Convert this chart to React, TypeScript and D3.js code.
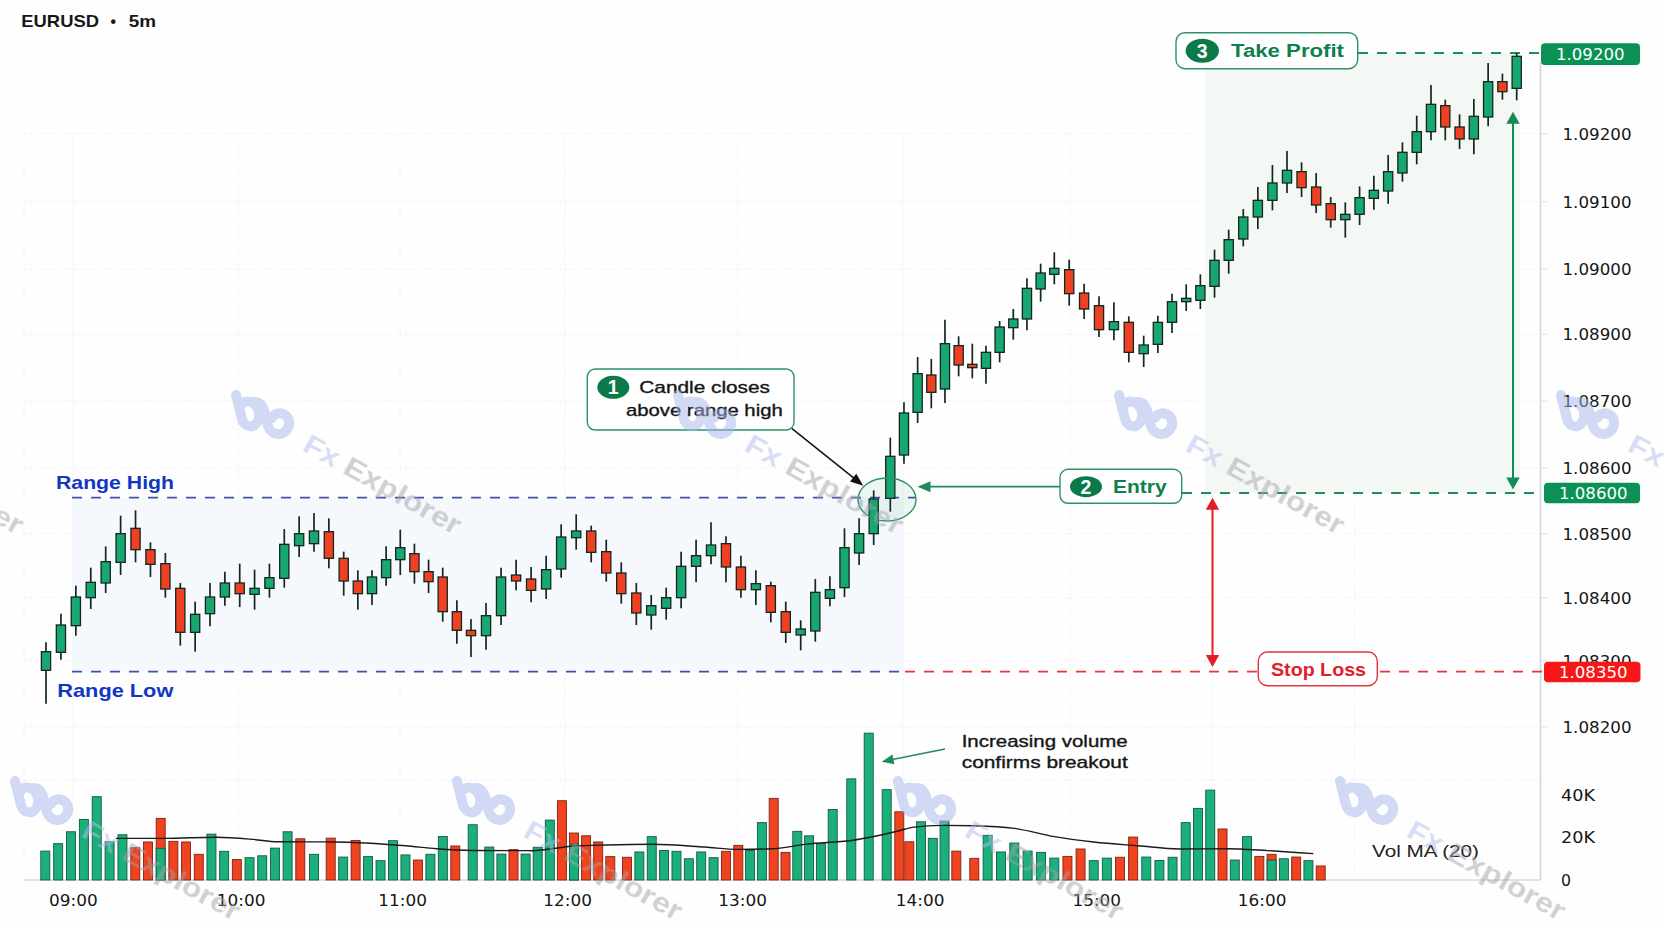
import React from "react";
import * as d3 from "d3";

// Prices in 1e-5 units, read candle by candle from the picture.
const candleOpen = [108382,108409,108449,108491,108513,108544,108595,108563,108542,108505,108439,108467,108492,108513,108496,108505,108520,108569,108572,108590,108550,108516,108497,108521,108548,108557,108530,108522,108470,108442,108434,108464,108525,108519,108504,108534,108581,108591,108560,108528,108498,108465,108475,108491,108538,108554,108572,108537,108503,108509,108470,108435,108441,108490,108506,108558,108587,108640,108705,108769,108825,108804,108869,108841,108835,108859,108896,108909,108954,108976,108983,108948,108929,108893,108904,108857,108871,108904,108935,108937,108958,108997,109029,109062,109087,109113,109130,109107,109082,109058,109066,109090,109101,109128,109159,109190,109229,109197,109179,109212,109265,109255];
const candleClose = [108410,108450,108492,108514,108545,108587,108563,108541,108504,108439,108466,108492,108513,108497,108505,108521,108571,108587,108591,108550,108516,108497,108522,108548,108566,108530,108515,108470,108442,108434,108464,108522,108516,108502,108533,108582,108591,108559,108528,108497,108468,108479,108491,108538,108554,108570,108537,108503,108512,108469,108439,108444,108499,108503,108566,108587,108639,108703,108768,108827,108799,108872,108840,108836,108859,108897,108909,108955,108978,108985,108947,108924,108893,108905,108859,108870,108904,108935,108940,108959,108997,109028,109062,109087,109113,109132,109106,109080,109058,109066,109091,109102,109130,109159,109190,109231,109197,109179,109213,109265,109250,109303];
const candleHigh = [108424,108467,108509,108536,108568,108614,108622,108574,108558,108513,108485,108513,108530,108542,108533,108542,108594,108613,108618,108610,108560,108532,108532,108568,108593,108572,108548,108536,108487,108459,108483,108536,108548,108537,108554,108601,108616,108599,108578,108544,108513,108495,108506,108560,108578,108604,108583,108554,108532,108515,108485,108457,108519,108523,108595,108610,108652,108731,108784,108852,108849,108908,108883,108872,108869,108906,108924,108970,108992,109009,108998,108962,108943,108934,108913,108884,108914,108947,108961,108976,109013,109043,109074,109107,109140,109161,109144,109128,109092,109084,109108,109124,109155,109174,109214,109260,109238,109216,109239,109293,109277,109308];
const candleLow = [108332,108398,108434,108474,108498,108525,108544,108522,108491,108419,108410,108448,108479,108477,108473,108491,108506,108552,108560,108535,108494,108473,108480,108509,108525,108512,108498,108455,108422,108402,108413,108450,108502,108484,108489,108521,108563,108544,108515,108482,108450,108443,108458,108475,108514,108541,108514,108491,108480,108454,108423,108412,108425,108478,108492,108540,108570,108620,108692,108753,108775,108783,108823,108820,108812,108844,108878,108892,108935,108961,108929,108909,108882,108877,108844,108837,108858,108888,108921,108924,108941,108977,109018,109044,109072,109098,109092,109068,109046,109031,109050,109073,109082,109115,109141,109177,109177,109164,109156,109198,109238,109237];

// Volume in thousands, read bar by bar; 1 = up bar, 0 = down bar.
const volumeK = [13.6,17.1,22.7,28.5,39.2,18.0,21.3,15.2,17.9,29.0,18.2,17.9,12.1,21.6,13.5,9.6,10.5,11.4,15.0,22.7,19.4,12.1,19.7,10.8,18.6,11.0,9.1,18.5,11.8,9.4,12.1,20.5,16.0,26.0,15.5,12.2,14.3,12.2,15.4,28.2,37.3,22.1,20.8,17.9,11.0,10.7,13.2,20.4,13.9,13.5,10.0,13.2,10.5,13.5,16.3,13.9,27.0,38.4,13.0,22.9,20.8,17.1,33.2,47.6,69.1,42.5,32.1,18.0,27.4,19.6,27.7,13.6,10.2,21.0,13.2,17.4,13.6,13.0,10.3,11.1,14.6,9.1,10.3,10.7,20.2,10.8,9.2,10.7,27.0,33.7,42.3,24.0,9.4,20.4,11.1,12.1,10.0,10.8,9.1,6.6];
const volumeUp = [1,1,1,1,1,1,1,0,0,0,0,0,0,1,1,0,1,1,1,1,0,1,0,1,0,1,1,1,1,0,1,1,0,1,1,1,0,1,1,1,0,0,0,0,0,0,1,1,1,1,1,1,1,0,0,1,1,0,0,1,1,1,1,1,1,1,0,0,1,1,1,0,0,1,1,1,1,1,1,0,0,1,1,0,0,1,1,1,1,1,1,0,1,1,0,0,1,0,1,0];
// Bars whose lower part shows the up colour under a down-coloured top.
const volumeUnderlayIdx = [9, 41, 95];
const volumeUnderlayK = [14.9, 16.9, 9.4];
const volMaIdx = [5.5,9.3,13.4,16.3,18.2,22.2,28,30.5,33,37.5,41,43.7,47,51.3,54,57,59.8,63,66,67.4,69.7,72,75,78,81,84.4,87.5,91.3,94.7,98.4];
const volMaK = [19.6,19.6,20.1,19.1,18.0,17.9,16.1,14.7,13.9,13.8,16.0,16.5,16.8,15.5,14.4,14.7,16.9,18.6,23.2,24.9,25.7,25.5,24.3,20.4,17.9,16.1,14.6,14.7,13.8,12.4];

// The printed price axis is not evenly spaced: each label sits at its own level.
const priceTickLabels = ["1.09200","1.09100","1.09000","1.08900","1.08700","1.08600","1.08500","1.08400","1.08300","1.08200"];
const priceTickLevels = [109187,109085,108984,108886,108786,108686,108587,108491,108396,108297];
const volTickLabels = ["40K","20K","0"];
const volTickValues = [40,20,0];
const volGridValues = [47];
const hourLabels = ["09:00","10:00","11:00","12:00","13:00","14:00","15:00","16:00"];
const hourPos = [9,10,11,12,13,14,15,16];
const gridHours = [9,10,11,12,13,14,15,15.9,16.8];

const rangeHigh = 108641, rangeLow = 108380, entryLevel = 108648, stopLevel = 108380, targetLevel = 109308;

// Scales (anchors follow the slightly irregular spacing of the reference).
const yPrice = d3.scaleLinear().domain([108300, 109188]).range([725, 133]);
const yVol = d3.scaleLinear().domain([0, 40]).range([880, 795]);
const xCandle = d3.scaleLinear()
  .domain([0,9,20,29,40,51,56,57,69,75,81,89,101])
  .range([46,180.3,343.7,471,636.3,800.7,873.7,890.3,1054.3,1143.7,1228.7,1345.3,1516.7]);
const xVol = d3.scaleLinear()
  .domain([0,7,20,21,22,32,33,34,44,45,54,62,63,64,65,66,67,71,72,78,88,99])
  .range([45.3,135.3,300.3,314,330.7,455.3,472.7,489.3,610.3,627,738.3,832.7,851.3,868.7,886.7,899.3,909.3,956.3,974.3,1054.3,1185.7,1320.7]);
const xLabel = d3.scaleLinear().domain(hourPos).range([73.3,241,402.5,567.5,742.5,920,1096.7,1262]);
const xGrid = d3.scaleLinear().domain(hourPos).range([73,238,400,565,738,903,1070,1228]);

const GREEN = "#17a872", RED = "#ef4122", OUT = "#14261f";
const DG = "#0b7a48", LG = "#1f8c5c", AXIS = "#cfd4e2";
const SANS = "'Liberation Sans', Arial, sans-serif", DJ = "'DejaVu Sans', sans-serif";

const T = ({ x, y, len, size, fill = "#161616", bold = false, semi = false, family = SANS, children }: any) => (
  <text x={x} y={y} textLength={len} lengthAdjust="spacingAndGlyphs" fontSize={size} fontFamily={family}
    fontWeight={bold ? 700 : 400} fill={fill} stroke={semi ? fill : "none"} strokeWidth={semi ? 0.35 : 0}>{children}</text>
);

const Arrow = ({ x1, y1, x2, y2, color, w = 1.6, hl = 12, hw = 5.5, both = false }: any) => {
  const a = Math.atan2(y2 - y1, x2 - x1), c = Math.cos(a), s = Math.sin(a);
  const head = (tx: number, ty: number, d: number) =>
    `${tx},${ty} ${tx - d * hl * c - hw * s},${ty - d * hl * s + hw * c} ${tx - d * hl * c + hw * s},${ty - d * hl * s - hw * c}`;
  return (
    <g>
      <line x1={both ? x1 + hl * c * 0.8 : x1} y1={both ? y1 + hl * s * 0.8 : y1} x2={x2 - hl * c * 0.8} y2={y2 - hl * s * 0.8} stroke={color} strokeWidth={w} />
      <polygon points={head(x2, y2, 1)} fill={color} />
      {both && <polygon points={head(x1, y1, -1)} fill={color} />}
    </g>
  );
};

const NumBadge = ({ cx, cy, rx, ry, n }: any) => (
  <g>
    <ellipse cx={cx} cy={cy} rx={rx} ry={ry} fill={DG} />
    <text x={cx} y={cy + 7} textAnchor="middle" fontSize={19.5} fontWeight={700} fontFamily={SANS} fill="#fff">{n}</text>
  </g>
);

const PriceBadge = ({ x, y, w, h, fill, label }: any) => (
  <g>
    <rect x={x} y={y} width={w} height={h} rx={4} fill={fill} />
    <T x={x + 15} y={y + h / 2 + 6} len={68.5} size={16.5} fill="#fff" family={DJ}>{label}</T>
  </g>
);

const Watermark = ({ x, y }: any) => (
  <g transform={`translate(${x},${y})`} opacity={0.5}>
    <g fill="none" stroke="#a6b4ec" strokeWidth={10} strokeLinecap="round" strokeLinejoin="round">
      <path d="M5,3 L11,27 C13,36 25,38 28,26 C30,14 18,4 10,13" />
      <path d="M24,10 C34,10 34,25 37,34 C40,44 54,46 58,33 C60,22 46,17 41,26" />
    </g>
    <g transform="translate(70,58) rotate(29)">
      <text fontSize={28} fontFamily={SANS} fontWeight={700} textLength={176} lengthAdjust="spacingAndGlyphs">
        <tspan fill="#b3bdee">Fx </tspan><tspan fill="#a2a3aa">Explorer</tspan>
      </text>
    </g>
  </g>
);

const watermarkRow1 = [-207, 231, 673, 1114, 1556];
const watermarkRow2 = [10, 452, 893, 1335];

export default function App() {
  const w = 9.2;
  const py = (v: number) => yPrice(v);
  const maLine = d3.line<number>().x((_, i) => xVol(volMaIdx[i])).y((d) => yVol(d)).curve(d3.curveMonotoneX);
  return (
    <svg width={1664} height={928} viewBox="0 0 1664 928" style={{ position: "fixed", left: 0, top: 0, background: "#fefefe" }}>
      {/* grid */}
      <g stroke="#f1f2f5" strokeWidth={1} strokeDasharray="3 2">
        {priceTickLevels.map((v) => <line key={v} x1={24} x2={1540} y1={py(v)} y2={py(v)} />)}
        {volGridValues.map((v) => <line key={v} x1={24} x2={1540} y1={yVol(v)} y2={yVol(v)} />)}
        <line x1={24} x2={24} y1={133} y2={880} />
        {gridHours.map((h) => <line key={h} x1={xGrid(h)} x2={xGrid(h)} y1={133} y2={880} />)}
      </g>
      {/* zones */}
      <rect x={72} y={py(rangeHigh)} width={832} height={py(rangeLow) - py(rangeHigh)} fill="#f5f8fd" />
      <rect x={1205} y={py(targetLevel)} width={315} height={py(entryLevel) - py(targetLevel)} fill="#f4f8f5" />
      {/* axis lines */}
      <line x1={1540.5} x2={1540.5} y1={62} y2={880} stroke={AXIS} strokeWidth={1.5} />
      <line x1={24} x2={1540} y1={880} y2={880} stroke="#d5d7db" strokeWidth={1.5} />
      {priceTickLevels.map((v) => <line key={v} x1={1540} x2={1547} y1={py(v)} y2={py(v)} stroke="#dde0e8" />)}
      {priceTickLabels.map((l, i) => <T key={l} x={1562.5} y={py(priceTickLevels[i]) + 6} len={69} size={16.5} family={DJ}>{l}</T>)}
      {volTickLabels.map((l, i) => <T key={l} x={1561} y={yVol(volTickValues[i]) + 5.5} len={l === "0" ? 10 : 34} size={16} family={DJ}>{l}</T>)}
      {hourLabels.map((l, i) => <T key={l} x={xLabel(hourPos[i]) - 24.3} y={905.5} len={48.7} size={16.5} family={DJ}>{l}</T>)}
      <T x={21.3} y={26.7} len={77.7} size={16.3} bold>EURUSD</T>
      <T x={110.5} y={26.7} len={5.5} size={16.3} bold>•</T>
      <T x={128.7} y={26.7} len={27.3} size={16.3} bold>5m</T>
      {/* levels */}
      <g strokeWidth={1.8} strokeDasharray="10 9" fill="none">
        <line x1={72} x2={916} y1={py(rangeHigh)} y2={py(rangeHigh)} stroke="#3d55a8" />
        <line x1={72} x2={905} y1={py(rangeLow)} y2={py(rangeLow)} stroke="#3d55a8" />
        <line x1={905} x2={1543} y1={py(stopLevel)} y2={py(stopLevel)} stroke="#e8363c" />
        <line x1={1182} x2={1543} y1={py(entryLevel)} y2={py(entryLevel)} stroke="#1f8c5c" />
        <line x1={1358} x2={1543} y1={py(targetLevel)} y2={py(targetLevel)} stroke="#1f8c5c" />
      </g>
      <T x={56} y={489.3} len={118} size={18.5} bold fill="#1037c4">Range High</T>
      <T x={57.3} y={696.7} len={116} size={18.5} bold fill="#1037c4">Range Low</T>
      {/* candles */}
      {candleOpen.map((o, i) => {
        const c = candleClose[i], x = xCandle(i), up = c >= o;
        const top = py(Math.max(o, c)), bot = py(Math.min(o, c));
        return (
          <g key={i}>
            <line x1={x} x2={x} y1={py(candleHigh[i])} y2={py(candleLow[i])} stroke={OUT} strokeWidth={1.7} />
            <rect x={x - w / 2} y={top} width={w} height={Math.max(bot - top, 3)} fill={up ? GREEN : RED} stroke={OUT} strokeWidth={1.3} />
          </g>
        );
      })}
      {/* volume */}
      {volumeK.map((v, i) => (
        <rect key={i} x={xVol(i) - 4.5} y={yVol(v)} width={9} height={880 - yVol(v)}
          fill={volumeUp[i] ? "#1bb07b" : "#f0431f"} stroke={volumeUp[i] ? "#145a43" : "#7c2413"} strokeWidth={0.9} />
      ))}
      {volumeUnderlayIdx.map((b, i) => (
        <rect key={b} x={xVol(b) - 4.5} y={yVol(volumeUnderlayK[i])} width={9} height={880 - yVol(volumeUnderlayK[i])} fill="#1bb07b" stroke="#145a43" strokeWidth={0.9} />
      ))}
      <path d={maLine(volMaK) ?? ""} fill="none" stroke="#1a1a1a" strokeWidth={1.4} />
      <T x={1372} y={857} len={107} size={16.5} fill="#222">Vol MA (20)</T>
      {/* annotations */}
      <ellipse cx={887} cy={499.5} rx={29} ry={21.5} fill="#1f8c5c" fillOpacity={0.08} stroke="#2a9468" strokeWidth={1.4} />
      <Arrow x1={791.7} y1={428.3} x2={863.3} y2={485.7} color="#111" w={1.5} hl={13} hw={5} />
      <Arrow x1={1060} y1={486.7} x2={917.5} y2={486.7} color={LG} w={1.8} hl={13} hw={5.5} />
      <Arrow x1={1513} y1={111.7} x2={1513} y2={489.5} color="#158a52" w={2} hl={12} hw={6.7} both />
      <Arrow x1={1212.5} y1={497.7} x2={1212.5} y2={667} color="#e41c24" w={2} hl={12} hw={6.7} both />
      <Arrow x1={945} y1={749} x2={881.7} y2={761.7} color={LG} w={1.6} hl={12} hw={5} />
      <rect x={587.3} y={369} width={206.7} height={61} rx={8} fill="#fff" stroke="#2b9466" strokeWidth={1.4} />
      <NumBadge cx={613.3} cy={387.3} rx={16} ry={11.5} n="1" />
      <T x={639.3} y={393.3} len={130.7} size={16.2} semi>Candle closes</T>
      <T x={626} y={416} len={156.7} size={16.2} semi>above range high</T>
      <rect x={1060} y={469.3} width={121.7} height={34} rx={8} fill="#fff" stroke="#2b9466" strokeWidth={1.4} />
      <NumBadge cx={1086} cy={486.7} rx={16} ry={10.5} n="2" />
      <T x={1113} y={493} len={53.7} size={18} bold fill="#0f7f4d">Entry</T>
      <rect x={1176} y={32.7} width={181.7} height={36} rx={9} fill="#fff" stroke="#2b9466" strokeWidth={1.4} />
      <NumBadge cx={1202.3} cy={50.7} rx={16.7} ry={12} n="3" />
      <T x={1231} y={56.7} len={113} size={18} bold fill="#0f7f4d">Take Profit</T>
      <rect x={1258.3} y={652} width={119} height={33.7} rx={9} fill="#fff" stroke="#e0353a" strokeWidth={1.4} />
      <T x={1271} y={676} len={95} size={17.5} bold fill="#e0202a">Stop Loss</T>
      <T x={961.7} y={746.7} len={166} size={16.2} semi>Increasing volume</T>
      <T x={961.7} y={767.7} len={166} size={16.2} semi>confirms breakout</T>
      {/* price badges */}
      <PriceBadge x={1541} y={43.3} w={99} h={21.7} fill="#0c9155" label="1.09200" />
      <PriceBadge x={1544} y={482.7} w={96} h={20.6} fill="#0c9155" label="1.08600" />
      <PriceBadge x={1544} y={661.7} w={96.5} h={20.6} fill="#f81616" label="1.08350" />
      {/* watermarks */}
      {watermarkRow1.map((x) => <Watermark key={x} x={x} y={392} />)}
      {watermarkRow2.map((x) => <Watermark key={x} x={x} y={778} />)}
    </svg>
  );
}
